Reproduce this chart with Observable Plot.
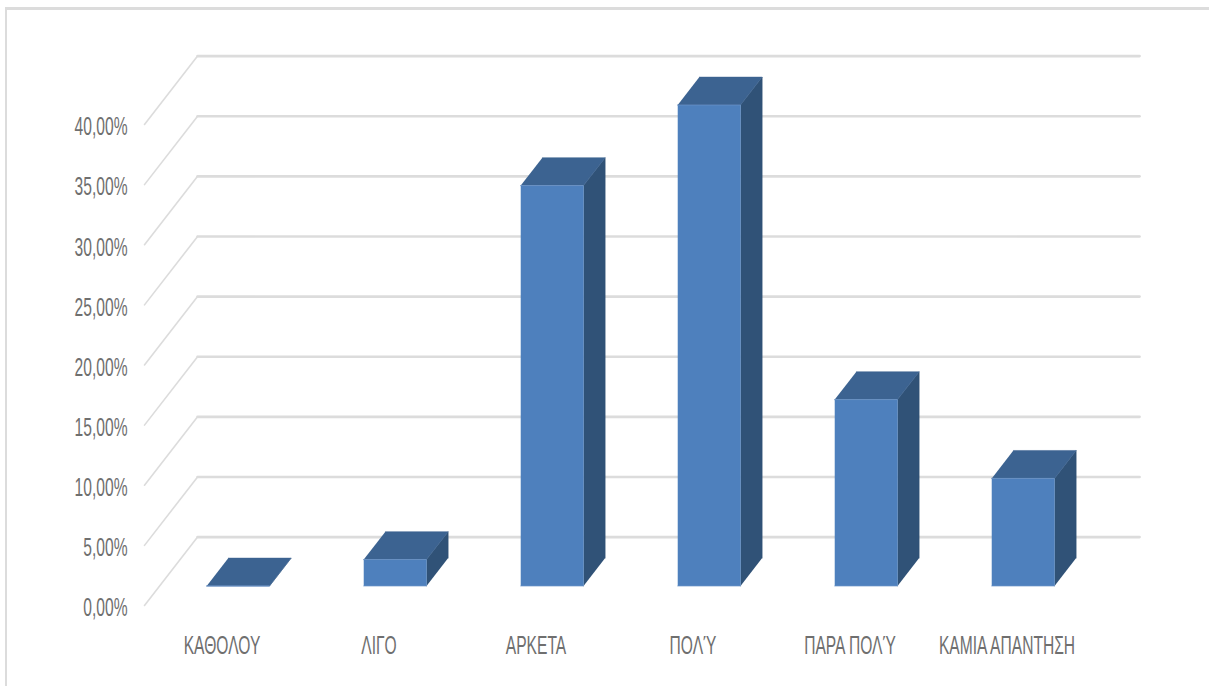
<!DOCTYPE html>
<html>
<head>
<meta charset="utf-8">
<script src="https://cdn.jsdelivr.net/npm/d3@7"></script>
<script src="https://cdn.jsdelivr.net/npm/@observablehq/plot@0.6"></script>
<style>
  html, body { margin: 0; padding: 0; background: #fff; overflow: hidden; }
  #chart { position: relative; width: 1209px; height: 686px; overflow: hidden; }
  #chart::before { content: ""; position: absolute; left: 5px; top: 7px; right: -10px; bottom: -10px;
    border-top: 3px solid #dcdcdc; border-left: 2.5px solid #dcdcdc; }
  #chart svg { position: relative; display: block; background: transparent; }
  #chart text { font-family: "Liberation Sans Narrow", "Liberation Sans", sans-serif; }
</style>
</head>
<body>
<div id="chart"></div>
<script>
const categories = ["ΚΑΘΟΛΟΥ", "ΛΙΓΟ", "ΑΡΚΕΤΑ", "ΠΟΛΎ", "ΠΑΡΑ ΠΟΛΎ", "ΚΑΜΙΑ ΑΠΑΝΤΗΣΗ"];
const values = [0, 2.2, 33.3, 40, 15.5, 8.95];
const yTicks = [0, 5, 10, 15, 20, 25, 30, 35, 40];

// Oblique 3D projection: depth 0 = front of floor, 1 = back wall (in data units)
const depthX = 0.338, depthY = 5.69;
const barHalf = 0.2, barFrontDepth = 0.285, barBackDepth = 0.693;
const P = (u, v, d) => ({x: u + d * depthX, y: v + d * depthY});
const poly = (id, pts) => pts.map(p => ({id, ...p}));

const wallDiagonals = yTicks.flatMap(t => poly(t, [P(-0.5, t, 0), P(-0.5, t, 1)]));
const wallLines = yTicks.flatMap(t => poly(t, [P(-0.5, t, 1), P(5.5, t, 1)]));

const topFaces = [], sideFaces = [], frontFaces = [];
values.forEach((v, i) => {
  const a = i - barHalf, b = i + barHalf, f = barFrontDepth, k = barBackDepth;
  topFaces.push(...poly(i, [P(a, v, f), P(b, v, f), P(b, v, k), P(a, v, k)]));
  sideFaces.push(...poly(i, [P(b, 0, f), P(b, v, f), P(b, v, k), P(b, 0, k)]));
  frontFaces.push(...poly(i, [P(a, 0, f), P(b, 0, f), P(b, v, f), P(a, v, f)]));
});

const fmt = d => d.toFixed(2).replace(".", ",") + "%";

const plot = Plot.plot({
  width: 1209,
  height: 686,
  marginLeft: 144,
  marginRight: 123,
  marginTop: 124,
  marginBottom: 81,
  x: {domain: [-0.5, 5.5], label: null},
  y: {domain: [0, 40], label: null},
  style: {background: "transparent"},
  marks: [
    Plot.line(wallDiagonals, {x: "x", y: "y", z: "id", stroke: "#dcdcdc", strokeWidth: 1.6}),
    Plot.line(wallLines, {x: "x", y: "y", z: "id", stroke: "#dcdcdc", strokeWidth: 2.6}),
    Plot.line(sideFaces, {x: "x", y: "y", z: "id", fill: "#305277", stroke: "#305277", strokeWidth: 0.5}),
    Plot.line(topFaces, {x: "x", y: "y", z: "id", fill: "#3c6391", stroke: "#3c6391", strokeWidth: 0.5}),
    Plot.line(frontFaces, {x: "x", y: "y", z: "id", fill: "#4e80bd", stroke: "#6f97c9", strokeWidth: 0.7}),
    Plot.axisY({ticks: yTicks, tickFormat: fmt, tickSize: 0, tickPadding: 17, fontSize: 26, fill: "#6f6f6f", label: null, dy: 2.5}),
    Plot.axisX({ticks: d3.range(categories.length), tickFormat: i => categories[i], tickSize: 0, tickPadding: 30, fontSize: 26, fill: "#6f6f6f", label: null, dx: -1})
  ]
});
document.getElementById("chart").append(plot);

// Reference type is tall and condensed: squeeze glyphs horizontally
plot.querySelectorAll("text").forEach(t => {
  const len = t.getComputedTextLength();
  t.setAttribute("textLength", len * 0.6);
  t.setAttribute("lengthAdjust", "spacingAndGlyphs");
});
</script>
</body>
</html>
